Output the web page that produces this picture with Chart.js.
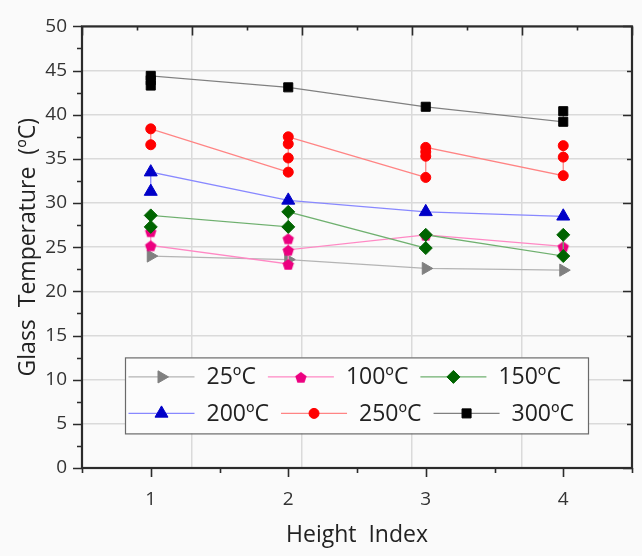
<!DOCTYPE html>
<html>
<head>
<meta charset="utf-8">
<script src="https://cdn.jsdelivr.net/npm/chart.js@4.4.1/dist/chart.umd.min.js"></script>
<style>
  html, body { margin: 0; padding: 0; background: #fafafa; }
  #glassChart { display: block; }
</style>
</head>
<body>
<canvas id="glassChart" width="642" height="556"></canvas>
<script>
// height index positions along the x axis
const heightIndex = [1, 2, 3, 4];
const seriesLabels = ['25ºC', '100ºC', '150ºC', '200ºC', '250ºC', '300ºC'];

// glass temperature readings (ºC), one list per height index
const temp25  = [[24.0], [23.6], [22.6], [22.4]];
const temp100 = [[26.8, 25.2], [23.1, 26.0, 24.7], [26.4], [25.1]];
const temp150 = [[27.3, 28.6], [27.3, 29.0], [24.9, 26.4], [24.0, 26.4]];
const temp200 = [[31.3, 33.5], [30.3], [29.0], [28.5]];
const temp250 = [[36.6, 38.4], [33.5, 35.1, 36.7, 37.5], [32.9, 35.3, 35.8, 36.3], [33.1, 35.2, 36.5]];
const temp300 = [[43.3, 43.9, 44.4], [43.1], [40.9], [39.2, 40.4]];

const allSeries = [temp25, temp100, temp150, temp200, temp250, temp300];

// pentagon marker, Chart.js has no built-in one
function makePentagon(color, r) {
    const c = document.createElement('canvas');
    const s = Math.ceil(r * 2 + 2);
    c.width = s; c.height = s;
    const g = c.getContext('2d');
    g.beginPath();
    for (let i = 0; i < 5; i++) {
        const a = -Math.PI / 2 + i * 2 * Math.PI / 5;
        const px = s / 2 + r * Math.cos(a), py = s / 2 + 1 + r * Math.sin(a);
        if (i === 0) g.moveTo(px, py); else g.lineTo(px, py);
    }
    g.closePath();
    g.fillStyle = color;
    g.fill();
    return c;
}

const styles = [
    { line: '#b4b4b4', mark: '#808080', shape: 'triangle', rot: 90, r: 7 },
    { line: '#ff88c4', mark: '#ec0080', shape: makePentagon('#ec0080', 6), rot: 0, r: 6 },
    { line: '#6fb06f', mark: '#006400', shape: 'rectRot', rot: 0, r: 6.5 },
    { line: '#8888ff', mark: '#0000c8', shape: 'triangle', rot: 0, r: 7.5 },
    { line: '#ff8484', mark: '#ff0000', shape: 'circle', rot: 0, r: 5 },
    { line: '#808080', mark: '#000000', shape: 'rect', rot: 0, r: 6.4 }
];

function toPoints(series) {
    const pts = [];
    heightIndex.forEach((h, i) => {
        series[i].forEach(v => pts.push({ x: h, y: v }));
    });
    return pts;
}

const datasets = allSeries.map((series, k) => ({
    label: seriesLabels[k],
    data: toPoints(series),
    borderColor: styles[k].line,
    borderWidth: 1.3,
    pointStyle: styles[k].shape,
    pointRotation: styles[k].rot,
    pointRadius: styles[k].r,
    pointBackgroundColor: styles[k].mark,
    pointBorderColor: styles[k].mark,
    pointBorderWidth: 1,
    order: allSeries.length - k,
    tension: 0
}));

// frame with inward ticks on top/right, outward on left/bottom
const frameTicks = {
    id: 'frameTicks',
    afterDraw(chart) {
        const { ctx, chartArea: a, scales } = chart;
        const x = scales.x, y = scales.y, xt = scales.xTop;
        ctx.save();
        ctx.strokeStyle = '#2b2b2b';
        ctx.lineWidth = 1.6;
        ctx.beginPath();
        for (let v = 0; v <= 50; v += 2.5) {
            const py = Math.round(y.getPixelForValue(v)) + 0.5;
            const major = v % 5 === 0;
            ctx.moveTo(a.left, py); ctx.lineTo(a.left - (major ? 9 : 5), py);
            if (v % 5 === 0) {
                const rmajor = v % 10 === 0;
                ctx.moveTo(a.right, py); ctx.lineTo(a.right - (rmajor ? 9 : 5), py);
            }
        }
        for (let v = 0.5; v <= 4.5001; v += 0.5) {
            const px = Math.round(x.getPixelForValue(v)) + 0.5;
            const major = Math.abs(v - Math.round(v)) < 1e-6;
            ctx.moveTo(px, a.bottom); ctx.lineTo(px, a.bottom + (major ? 9 : 5));
        }
        for (let k = 0; k <= 10; k++) {
            const v = 0.5 + k * 0.4;
            const px = Math.round(xt.getPixelForValue(v)) + 0.5;
            ctx.moveTo(px, a.top); ctx.lineTo(px, a.top + (k % 2 === 0 ? 9 : 4));
        }
        ctx.stroke();
        ctx.lineWidth = 2.2;
        ctx.strokeRect(a.left, a.top, a.right - a.left, a.bottom - a.top);
        ctx.restore();
    }
};

function drawMarker(ctx, st, cx, cy) {
    ctx.fillStyle = st.mark;
    ctx.strokeStyle = st.mark;
    ctx.lineWidth = 1;
    Chart.helpers.drawPoint(ctx, { pointStyle: st.shape, rotation: st.rot, radius: st.r, borderWidth: 1 }, cx, cy);
}

// boxed legend placed inside the plot
const innerLegend = {
    id: 'innerLegend',
    afterDraw(chart) {
        const { ctx, chartArea: a } = chart;
        const left = a.left + 43, top = a.top + 331, w = 463, h = 76;
        const rows = [[0, 1, 2], [3, 4, 5]];
        const rowY = [top + 19.5, top + 56];
        ctx.save();
        ctx.fillStyle = '#fcfcfc';
        ctx.fillRect(left, top, w, h);
        ctx.strokeStyle = '#6a6a6a';
        ctx.lineWidth = 1.2;
        ctx.strokeRect(left + 0.5, top + 0.5, w, h);
        ctx.font = '23px "Open Sans"';
        ctx.textBaseline = 'middle';
        rows.forEach((row, r) => {
            let cx = left + 3.5;
            row.forEach(k => {
                const st = styles[k];
                const cy = rowY[r];
                ctx.strokeStyle = st.line;
                ctx.lineWidth = 1.3;
                ctx.beginPath();
                ctx.moveTo(cx, cy); ctx.lineTo(cx + 66, cy);
                ctx.stroke();
                drawMarker(ctx, st, cx + 33, cy);
                ctx.fillStyle = '#222';
                ctx.fillText(seriesLabels[k], cx + 78, cy + 1);
                cx += 78 + ctx.measureText(seriesLabels[k]).width + 12;
            });
        });
        ctx.restore();
    }
};

const ctx = document.getElementById('glassChart').getContext('2d');
new Chart(ctx, {
    type: 'line',
    data: { datasets: datasets },
    options: {
        responsive: false,
        animation: false,
        devicePixelRatio: 1,
        layout: { padding: { left: 0, right: 10, top: 23, bottom: 0 } },
        plugins: { legend: { display: false }, tooltip: { enabled: false } },
        scales: {
            x: {
                type: 'linear',
                position: 'bottom',
                min: 0.5,
                max: 4.5,
                afterBuildTicks: s => { s.ticks = heightIndex.map(v => ({ value: v })); },
                afterFit: s => { s.height = 88; },
                grid: { display: false },
                border: { display: false },
                ticks: { font: { family: 'Open Sans', size: 19 }, color: '#333', padding: 12 },
                title: {
                    display: true,
                    text: 'Height  Index',
                    font: { family: 'Open Sans', size: 23 },
                    color: '#222',
                    padding: { top: 7, bottom: 7 }
                }
            },
            xTop: {
                type: 'linear',
                position: 'top',
                min: 0.5,
                max: 4.5,
                ticks: { display: false, stepSize: 0.8 },
                afterFit: s => { s.height = 0; },
                grid: { color: '#dadada', lineWidth: 1.5, drawTicks: false },
                border: { display: false }
            },
            y: {
                min: 0,
                max: 50,
                afterFit: s => { s.width = 82; },
                ticks: { stepSize: 5, font: { family: 'Open Sans', size: 19 }, color: '#333', padding: 15 },
                grid: { color: '#dadada', lineWidth: 1.5, drawTicks: false },
                border: { display: false },
                title: {
                    display: true,
                    text: 'Glass  Temperature  (ºC)',
                    font: { family: 'Open Sans', size: 23 },
                    color: '#222',
                    padding: { top: 15, bottom: 15 }
                }
            }
        }
    },
    plugins: [frameTicks, innerLegend]
});
</script>
</body>
</html>
